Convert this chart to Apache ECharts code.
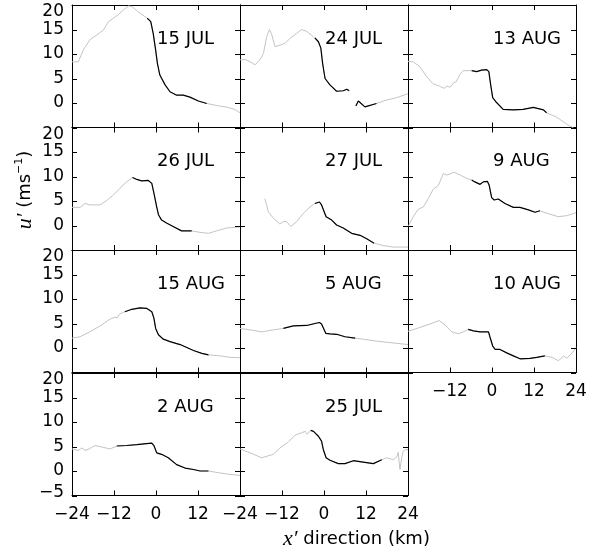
<!DOCTYPE html>
<html>
<head>
<meta charset="utf-8">
<script src="https://cdn.jsdelivr.net/npm/echarts@6/dist/echarts.min.js"></script>
<style>
  html, body { margin: 0; padding: 0; background: #fff; }
  #chart { width: 601px; height: 554px; }
</style>
</head>
<body>
<div id="chart"></div>
<script>
// Along-track wind anomaly u' (m/s) against x' (km) for eleven days.
// Each record is drawn in grey; the central stretch is overdrawn in black.

const xTickValues = [-24, -12, 0, 12, 24];
const yTickValues = [-5, 0, 5, 10, 15, 20];

const panelLabels = ['15 JUL', '24 JUL', '13 AUG', '26 JUL', '27 JUL', '9 AUG',
                     '15 AUG', '5 AUG', '10 AUG', '2 AUG', '25 JUL'];

const jul15 = [[-24,8.4],[-22.2,8.4],[-20.8,10.8],[-18.9,12.9],[-16.9,13.9],[-15.0,14.9],[-13.6,16.6],
  [-12.2,17.3],[-10.8,18.0],[-9.3,19.0],[-7.9,19.8],[-6.9,19.7],[-5.1,18.6],[-3.1,17.6],[-2.5,17.3],
  [-1.5,16.6],[-0.8,14.2],[-0.1,10.8],[0.4,8.1],[1.1,5.7],[2.6,3.7],[4.0,2.3],[5.9,1.6],[7.8,1.6],
  [9.7,1.2],[12.1,0.4],[14.5,-0.1],[17.3,-0.5],[20.5,-0.9],[22.5,-1.3],[24,-2.0]];
const jul15Core = [-2.5, 14.5];

const jul24 = [[-24,8.8],[-22.6,8.9],[-21.1,8.4],[-19.7,7.8],[-18.3,8.8],[-17.3,10.1],[-16.4,13.5],
  [-15.6,15.0],[-14.9,13.9],[-14.0,11.5],[-12.6,11.8],[-11.1,12.2],[-9.7,13.2],[-7.8,14.2],[-6.4,15.0],
  [-4.9,14.6],[-3.0,13.5],[-2.6,13.3],[-1.6,12.5],[-0.9,11.2],[-0.4,8.1],[0.3,5.0],[1.7,3.7],[3.6,2.4],
  [5.5,2.5],[6.5,2.8],[7.2,2.5],[8.1,'-'],[9.1,-0.6],[9.8,0.4],[11.7,-0.8],[15.0,-0.1],[17.9,0.6],
  [20.8,1.1],[23.6,1.8],[24,1.9]];
const jul24Core = [-2.6, 15.0];

const aug13 = [[-24,8.5],[-22.5,8.4],[-20.6,7.4],[-18.7,5.4],[-16.8,3.9],[-15.1,3.5],[-14.4,3.2],
  [-13.6,3.0],[-12.9,3.5],[-12.0,3.2],[-11.0,4.1],[-10.3,4.3],[-9.1,5.9],[-8.2,6.6],[-5.8,6.6],
  [-4.4,6.4],[-3.0,6.7],[-1.5,6.8],[-0.9,6.4],[-0.4,3.8],[0.2,1.1],[1.3,0.1],[3.2,-1.3],[6.1,-1.4],
  [8.9,-1.3],[11.8,-0.9],[14.7,-1.4],[15.6,-2.0],[18.5,-2.9],[21.3,-4.3],[22.5,-4.8],[23.2,-5.0]];
const aug13Core = [-5.8, 15.6];

const jul26 = [[-24,3.7],[-21.7,3.7],[-20.3,4.5],[-18.9,4.2],[-16,4.2],[-14.1,5.1],[-12.2,6.2],
  [-10.3,7.6],[-8.4,8.9],[-6.7,9.8],[-5.5,9.4],[-4.1,9.1],[-2.2,9.2],[-1.2,8.6],[-0.6,6.6],[0.2,3.8],
  [0.7,2.2],[1.6,1.1],[3.0,0.5],[4.9,-0.2],[7.3,-1.1],[10.2,-1.1],[12.6,-1.4],[15.0,-1.6],[17.3,-1.1],
  [20.2,-0.5],[24,-0.3]];
const jul26Core = [-6.7, 10.2];

const jul27 = [[-16.9,5.5],[-15.9,2.8],[-14.5,1.5],[-12.6,0.3],[-11.6,0.8],[-10.7,0.8],[-9.5,-0.2],
  [-7.8,0.8],[-5.9,2.5],[-4.0,3.8],[-2.6,4.5],[-1.3,4.8],[-0.7,4.2],[0.6,1.8],[2.2,1.1],[3.6,0.1],
  [5.5,-0.5],[7.9,-1.6],[10.3,-2.0],[12.2,-2.7],[14.3,-3.6],[16.9,-4.1],[19.8,-4.4],[24,-4.4]];
const jul27Core = [-2.6, 14.3];

const aug9 = [[-24,-0.3],[-22.5,1.8],[-21.1,3.3],[-19.6,3.8],[-18.2,5.5],[-16.8,7.4],[-15.3,8.2],
  [-13.9,10.6],[-12.9,10.3],[-12.0,10.5],[-10.9,10.9],[-9.1,10.3],[-7.2,9.6],[-5.8,9.3],[-4.9,8.9],
  [-3.4,8.4],[-2.5,8.9],[-1.3,9.0],[-0.8,8.2],[-0.1,5.7],[0.6,5.2],[1.8,5.4],[3.7,4.5],[6.1,3.7],
  [8.0,3.7],[10.4,3.2],[12.3,2.7],[13.7,3.0],[16.1,2.4],[18.9,1.8],[21.3,2.0],[24,2.6]];
const aug9Core = [-5.8, 13.7];

const aug15 = [[-24,2.0],[-21.7,2.3],[-18.9,3.3],[-16,4.5],[-13.1,5.9],[-11.7,6.3],[-11.1,6.1],
  [-10.5,6.9],[-8.9,7.4],[-6.9,7.9],[-4.6,8.2],[-2.7,8.1],[-1.2,7.4],[-0.6,6.1],[-0.1,4.0],[0.7,2.7],
  [2.1,1.8],[4.0,1.3],[6.9,0.7],[8.8,0.1],[10.7,-0.5],[13.1,-1.1],[15.0,-1.4],[18.3,-1.6],[21.1,-1.9],
  [24,-2.0]];
const aug15Core = [-8.9, 15.0];

const aug5 = [[-24,4.0],[-21.1,3.7],[-17.8,3.3],[-14.5,3.7],[-11.6,4.0],[-8.8,4.5],[-4.9,4.6],
  [-2.6,5.0],[-1.3,5.2],[-0.7,4.9],[0.5,3.0],[1.7,2.9],[3.6,2.8],[6.0,2.3],[8.9,2.0],[11.2,1.8],
  [15.1,1.4],[18.9,1.1],[24,0.7]];
const aug5Core = [-11.6, 8.9];

const aug10 = [[-24,3.4],[-20.6,4.2],[-17.7,4.9],[-15.1,5.6],[-13.4,4.7],[-11.5,3.3],[-9.6,2.9],
  [-8.2,3.3],[-6.8,3.8],[-5.3,3.5],[-3.4,3.3],[-1.0,3.3],[-0.6,2.3],[0.2,0.4],[0.9,-0.3],[2.3,-0.3],
  [4.2,-1.0],[6.1,-1.6],[8.0,-2.2],[10.9,-2.1],[12.8,-1.9],[15.1,-1.6],[17.1,-1.9],[19.0,-2.6],
  [20.5,-1.6],[21.3,-2.1],[22.8,-1.1],[24,0.1]];
const aug10Core = [-6.8, 15.1];

const aug2 = [[-24,4.5],[-22.2,4.2],[-21.2,4.7],[-20.3,4.2],[-19.1,4.5],[-17.4,5.2],[-15.5,4.9],
  [-13.1,4.5],[-11.2,5.1],[-8.4,5.2],[-5.5,5.4],[-2.7,5.6],[-1.2,5.7],[-0.6,5.2],[0.2,3.7],[1.6,3.4],
  [3.5,2.7],[5.9,1.3],[8.3,0.6],[10.7,0.3],[12.6,0.0],[15.0,0.0],[18.3,-0.4],[21.1,-0.7],[24,-0.9]];
const aug2Core = [-11.2, 15.0];

const jul25 = [[-24,4.5],[-21.1,3.7],[-17.8,2.7],[-14.5,3.4],[-12.6,4.7],[-10.2,5.9],[-8.3,7.3],
  [-6.4,7.8],[-5.4,8.1],[-4.8,7.5],[-3.8,8.3],[-3.0,8.1],[-1.6,7.1],[-0.7,6.1],[-0.2,4.4],[0.6,2.7],
  [1.7,2.2],[4.1,1.5],[6.0,1.5],[8.4,2.1],[11.2,1.8],[14.1,1.5],[16.5,2.3],[17.9,2.7],[19.8,2.3],
  [20.8,2.9],[21.2,3.8],[21.7,0.3],[22.2,2.7],[22.6,4.0],[23.4,4.4],[24,4.3]];
const jul25Core = [-3.8, 16.5];

const panelTracks = [jul15, jul24, aug13, jul26, jul27, aug9, aug15, aug5, aug10, aug2, jul25];
const panelCores = [jul15Core, jul24Core, aug13Core, jul26Core, jul27Core, aug9Core,
                    aug15Core, aug5Core, aug10Core, aug2Core, jul25Core];

// Which tick labels each panel prints (shared edges print only once).
const xLabelSets = { 8: [-12, 0, 12, 24], 9: [-24, -12, 0, 12], 10: [-24, -12, 0, 12, 24] };
const yLabelSets = { 0: [0, 5, 10, 15, 20], 3: [0, 5, 10, 15, 20], 6: [0, 5, 10, 15, 20],
                     9: [-5, 0, 5, 10, 15, 20] };

// ---- layout ----
const GRID_LEFT = 72, PANEL_W = 168, PANEL_H = 122.5;
const rowTops = [5, 127.5, 250, 373];
const TICK_FONT = 'DejaVu Sans';
const TICK_LEN = 5;

function fmtNum(v) { return v < 0 ? '\u2212' + Math.abs(v) : String(v); }
function crisp(p) { return Math.round(p) + 0.5; }

const xMin = xTickValues[0], xMax = xTickValues[xTickValues.length - 1];
const yMin = yTickValues[0], yMax = yTickValues[yTickValues.length - 1];

// Inward tick marks on all four sides of a panel: item [value, 0] marks an x tick,
// item [value, 1] a y tick; positions come from the panel's own axes.
const tickItems = xTickValues.map(v => [v, 0]).concat(yTickValues.map(v => [v, 1]));
function renderTicks(params, api) {
  const v = api.value(0), kind = api.value(1);
  const st = { stroke: '#000', lineWidth: 1 };
  if (kind === 0) {
    const b = api.coord([v, yMin]), t = api.coord([v, yMax]);
    const x = crisp(b[0]);
    return { type: 'group', children: [
      { type: 'line', shape: { x1: x, y1: b[1], x2: x, y2: b[1] - TICK_LEN }, style: st },
      { type: 'line', shape: { x1: x, y1: t[1], x2: x, y2: t[1] + TICK_LEN }, style: st }
    ] };
  }
  const l = api.coord([xMin, v]), r = api.coord([xMax, v]);
  const y = crisp(l[1]);
  return { type: 'group', children: [
    { type: 'line', shape: { x1: l[0], y1: y, x2: l[0] + TICK_LEN, y2: y }, style: st },
    { type: 'line', shape: { x1: r[0], y1: y, x2: r[0] - TICK_LEN, y2: y }, style: st }
  ] };
}

const grids = [], xAxes = [], yAxes = [], series = [], graphics = [];

panelTracks.forEach((track, i) => {
  const row = Math.floor(i / 3), col = i % 3;
  const left = GRID_LEFT + col * PANEL_W, top = rowTops[row];
  grids.push({ left: left, top: top, width: PANEL_W, height: PANEL_H });

  const xShow = xLabelSets[i] || [];
  const yShow = yLabelSets[i] || [];
  const axisLine = () => ({ show: true, onZero: false, lineStyle: { color: '#000', width: 1 } });

  ['bottom', 'top'].forEach(pos => {
    xAxes.push({
      type: 'value', gridIndex: i, position: pos,
      min: xMin, max: xMax, interval: xTickValues[1] - xTickValues[0],
      axisLine: axisLine(), axisTick: { show: false }, splitLine: { show: false },
      axisLabel: {
        show: pos === 'bottom' && xShow.length > 0,
        interval: 0, hideOverlap: false,
        showMinLabel: true, showMaxLabel: true,
        margin: 11, color: '#000', fontFamily: TICK_FONT, fontSize: 17,
        formatter: v => xShow.indexOf(v) >= 0 ? fmtNum(v) : ''
      }
    });
  });
  ['left', 'right'].forEach(pos => {
    yAxes.push({
      type: 'value', gridIndex: i, position: pos,
      min: yMin, max: yMax, interval: yTickValues[1] - yTickValues[0],
      axisLine: axisLine(), axisTick: { show: false }, splitLine: { show: false },
      axisLabel: {
        show: pos === 'left' && yShow.length > 0,
        interval: 0, hideOverlap: false,
        showMinLabel: true, showMaxLabel: true,
        verticalAlignMaxLabel: 'top', verticalAlignMinLabel: 'bottom',
        lineHeight: 6, padding: [4, 0, 0, 0],
        margin: 8, color: '#000', fontFamily: TICK_FONT, fontSize: 17,
        formatter: v => yShow.indexOf(v) >= 0 ? fmtNum(v) : ''
      }
    });
  });

  const core = panelCores[i];
  const coreData = track.filter(p => p[0] >= core[0] && p[0] <= core[1]);
  series.push({
    type: 'line', xAxisIndex: 2 * i, yAxisIndex: 2 * i, data: track,
    symbol: 'none', silent: true, connectNulls: false,
    lineStyle: { color: '#c4c4c4', width: 1 }
  });
  series.push({
    type: 'line', xAxisIndex: 2 * i, yAxisIndex: 2 * i, data: coreData,
    symbol: 'none', silent: true, connectNulls: false,
    lineStyle: { color: '#000', width: 1.2 }
  });
  series.push({
    type: 'custom', xAxisIndex: 2 * i, yAxisIndex: 2 * i, data: tickItems,
    renderItem: renderTicks, clip: false, z: 5
  });

  graphics.push({
    type: 'text', x: left + 85, y: top + 34, silent: true,
    style: { text: panelLabels[i], fill: '#000', fontFamily: TICK_FONT, fontSize: 18,
             align: 'left', verticalAlign: 'middle' }
  });
});

// Axis titles
graphics.push({
  type: 'text', x: 25, y: 190, rotation: Math.PI / 2, silent: true,
  style: {
    text: '{it|u\u2032} {n|(ms}{sup|\u22121}{n|)}',
    align: 'center', verticalAlign: 'middle', fill: '#000',
    fontFamily: TICK_FONT, fontSize: 18,
    rich: {
      it: { fontFamily: 'Liberation Serif', fontStyle: 'italic', fontSize: 22, fill: '#000', lineHeight: 22 },
      n: { fontFamily: TICK_FONT, fontSize: 18, fill: '#000', lineHeight: 22 },
      sup: { fontFamily: TICK_FONT, fontSize: 11, fill: '#000', lineHeight: 22, verticalAlign: 'top' }
    }
  }
});
graphics.push({
  type: 'text', x: 283, y: 539, silent: true,
  style: {
    text: '{it|x\u2032} {n|direction (km)}',
    align: 'left', verticalAlign: 'middle', fill: '#000',
    fontFamily: TICK_FONT, fontSize: 18,
    rich: {
      it: { fontFamily: 'Liberation Serif', fontStyle: 'italic', fontSize: 22, fill: '#000' },
      n: { fontFamily: TICK_FONT, fontSize: 18, fill: '#000' }
    }
  }
});

const chart = echarts.init(document.getElementById('chart'), null, { renderer: 'canvas' });
chart.setOption({
  animation: false,
  backgroundColor: '#fff',
  grid: grids,
  xAxis: xAxes,
  yAxis: yAxes,
  series: series,
  graphic: graphics
});
</script>
</body>
</html>
